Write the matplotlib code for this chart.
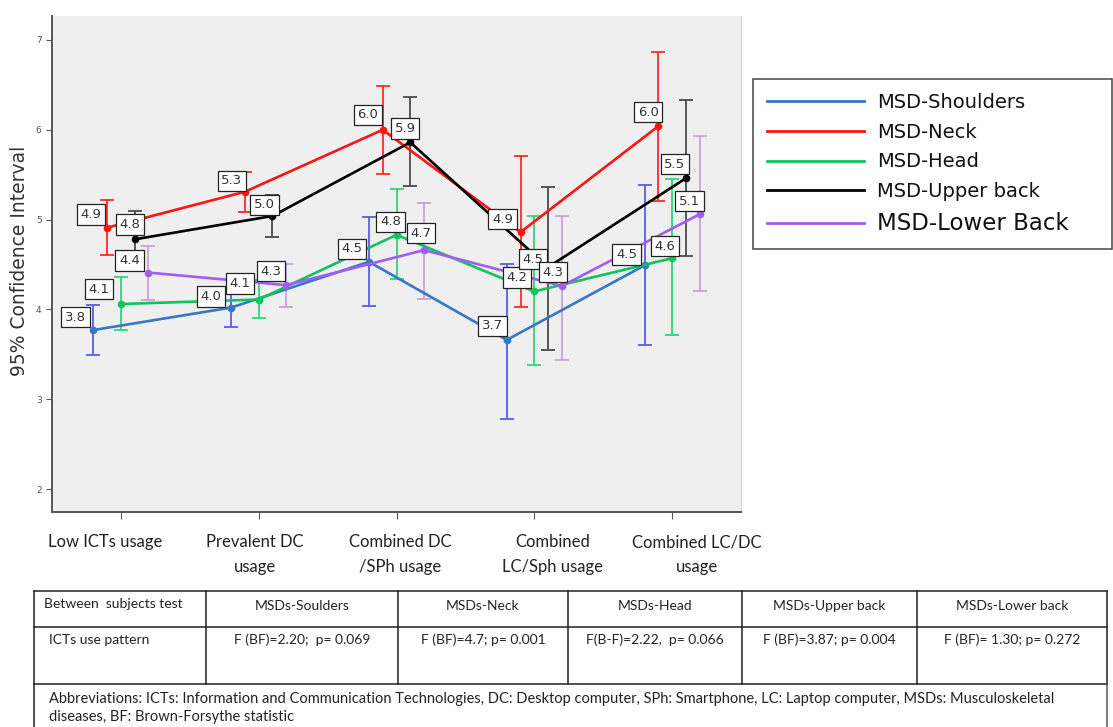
import matplotlib
matplotlib.use("Agg")
import matplotlib.pyplot as plt
import matplotlib.transforms as mtransforms
from matplotlib.lines import Line2D
import numpy as np

# ---- data -------------------------------------------------------------
categories = ["Low ICTs usage", "Prevalent DC\nusage", "Combined DC\n/SPh usage",
              "Combined\nLC/Sph usage", "Combined LC/DC\nusage"]
series = ["MSD-Shoulders", "MSD-Neck", "MSD-Head", "MSD-Upper back", "MSD-Lower Back"]

shoulders_mean = [3.77, 4.02, 4.53, 3.66, 4.49]
shoulders_lo = [3.49, 3.80, 4.04, 2.78, 3.60]
shoulders_hi = [4.05, 4.24, 5.03, 4.51, 5.39]

neck_mean = [4.91, 5.31, 6.00, 4.86, 6.04]
neck_lo = [4.61, 5.09, 5.51, 4.03, 5.21]
neck_hi = [5.22, 5.53, 6.49, 5.71, 6.87]

head_mean = [4.06, 4.11, 4.83, 4.20, 4.57]
head_lo = [3.77, 3.90, 4.34, 3.38, 3.72]
head_hi = [4.36, 4.33, 5.34, 5.04, 5.45]

upper_mean = [4.78, 5.04, 5.86, 4.47, 5.46]
upper_lo = [4.46, 4.81, 5.37, 3.55, 4.60]
upper_hi = [5.10, 5.27, 6.36, 5.36, 6.33]

lower_mean = [4.41, 4.27, 4.66, 4.26, 5.06]
lower_lo = [4.10, 4.03, 4.12, 3.44, 4.21]
lower_hi = [4.71, 4.51, 5.18, 5.04, 5.93]

table_header = ["Between  subjects test", "MSDs-Soulders", "MSDs-Neck", "MSDs-Head",
                "MSDs-Upper back", "MSDs-Lower back"]
table_row = ["ICTs use pattern", "F (BF)=2.20;  p= 0.069", "F (BF)=4.7; p= 0.001",
             "F(B-F)=2.22,  p= 0.066", "F (BF)=3.87; p= 0.004", "F (BF)= 1.30; p= 0.272"]
footnote = ["Abbreviations: ICTs: Information and Communication Technologies, DC: Desktop computer, "
            "SPh: Smartphone, LC: Laptop computer, MSDs: Musculoskeletal",
            "diseases, BF: Brown-Forsythe statistic"]

means = [shoulders_mean, neck_mean, head_mean, upper_mean, lower_mean]
lows = [shoulders_lo, neck_lo, head_lo, upper_lo, lower_lo]
highs = [shoulders_hi, neck_hi, head_hi, upper_hi, lower_hi]

# ---- styles -----------------------------------------------------------
line_colors = ["#3478c6", "#ff1414", "#12c25e", "#000000", "#a25cf2"]
err_colors = ["#5a5af5", "#ff2a2a", "#2ed67a", "#4a4a4a", "#c8a2d8"]
offsets = [-0.2, -0.1, 0.0, 0.1, 0.2]
# label box offsets (pixels) per series, per category
label_off = [
    [(-18, 13), (-20, 11), (-17, 13), (-14, 14), (-18, 11)],
    [(-16, 13), (-13, 11), (-15, 15), (-18, 13), (-10, 14)],
    [(-22, 15), (-19, 16), (-6, 13), (-17, 14), (-7, 12)],
    [(-5, 15), (-8, 11), (-5, 14), (-15, 8), (-11, 14)],
    [(-19, 12), (-15, 14), (-3, 17), (-9, 14), (-10, 13)],
]

W, H = 1113, 727
fig = plt.figure(figsize=(W / 100, H / 100), dpi=100)
ax = fig.add_axes([52 / W, 1 - 512 / H, (741 - 52) / W, (512 - 16) / H])
ax.set_facecolor("#efefef")

x = np.arange(len(categories))
for i in range(len(series)):
    m = np.array(means[i])
    lo = np.array(lows[i])
    hi = np.array(highs[i])
    xs = x + offsets[i]
    ax.errorbar(xs, m, yerr=[m - lo, hi - m], fmt="none", ecolor=err_colors[i],
                elinewidth=1.3, capsize=5, capthick=1.3, zorder=2)
    ax.plot(xs, m, color=line_colors[i], lw=1.9, marker="o", ms=4.5, zorder=3)
    for j in range(len(categories)):
        ax.annotate(f"{m[j]:.1f}", (xs[j], m[j]), xytext=label_off[i][j],
                    textcoords="offset pixels", ha="center", va="center",
                    fontsize=9.5, color="#333333", zorder=6,
                    bbox=dict(boxstyle="square,pad=0.28", fc="white", ec="#222222", lw=0.9))

ax.set_xlim(-0.5, 4.5)
ax.set_ylim(1.744, 7.267)
ax.set_yticks([2, 3, 4, 5, 6, 7])
ax.tick_params(axis="y", labelsize=6.5, labelcolor="#555555", length=4, color="#555555")
ax.set_xticks(x)
ax.set_xticklabels(categories, fontfamily="Lato", fontsize=12, color="#222222",
                   linespacing=1.65)
ax.tick_params(axis="x", length=5, color="#555555", pad=11)
label_dx = [-16, -4, 4, 18, 25]
for lab, dx in zip(ax.get_xticklabels(), label_dx):
    lab.set_transform(lab.get_transform() +
                      mtransforms.ScaledTranslation(dx / 100, 0, fig.dpi_scale_trans))

for s in ["left", "bottom"]:
    ax.spines[s].set_color("#555555")
    ax.spines[s].set_linewidth(1.4)
ax.spines["top"].set_visible(False)
ax.spines["right"].set_color("#d6d6d6")

ax.set_ylabel("95% Confidence Interval", fontsize=13.5, color="#333333")
ax.yaxis.set_label_coords((29 - 52) / 689, (512 - 261) / 496)

# legend
handles = [Line2D([], [], color=c, lw=2) for c in line_colors]
leg = fig.legend(handles, series, loc="upper left",
                 bbox_to_anchor=(753 / W, 1 - 79 / H, (1112 - 753) / W, 0),
                 mode="expand", borderaxespad=0, fontsize=14, frameon=True,
                 fancybox=False, edgecolor="#555555", framealpha=1,
                 handlelength=5.0, handletextpad=0.66, labelspacing=0.55,
                 borderpad=0.72)
leg.get_frame().set_linewidth(1.2)
for t in leg.get_texts():
    t.set_color("#111111")
leg.get_texts()[-1].set_fontsize(16.5)

# table below the chart, drawn in pixel coordinates
tab = fig.add_axes([0, 0, 1, 1], zorder=-1)
tab.set_xlim(0, W)
tab.set_ylim(H, 0)
tab.axis("off")
cols = [34, 206, 398, 568, 742, 917, 1107]
rows = [591, 627, 684]
for y in rows:
    tab.plot([cols[0], cols[-1]], [y, y], color="#222222", lw=1.1)
for cx in cols:
    tab.plot([cx, cx], [rows[0], rows[-1]], color="#222222", lw=1.1)
tab.plot([cols[0], cols[0]], [rows[-1], H], color="#222222", lw=1.1)
tab.plot([cols[-1], cols[-1]], [rows[-1], H], color="#555555", lw=1.1)

cell_fs = 10
tab.text(44, 604, table_header[0], fontfamily="Lato", fontsize=cell_fs, color="#222222",
         va="center", ha="left")
tab.text(49, 640, table_row[0], fontfamily="Lato", fontsize=cell_fs, color="#222222",
         va="center", ha="left")
for k in range(1, len(table_header)):
    cx = (cols[k] + cols[k + 1]) / 2
    tab.text(cx, 606, table_header[k], fontfamily="Lato", fontsize=cell_fs, color="#222222",
             va="center", ha="center")
    tab.text(cx, 640, table_row[k], fontfamily="Lato", fontsize=cell_fs, color="#222222",
             va="center", ha="center")
tab.text(49, 699, footnote[0], fontfamily="Lato", fontsize=10.5, color="#222222",
         va="center", ha="left")
tab.text(49, 717, footnote[1], fontfamily="Lato", fontsize=10.5, color="#222222",
         va="center", ha="left")

fig.savefig("out.png", dpi=100)
